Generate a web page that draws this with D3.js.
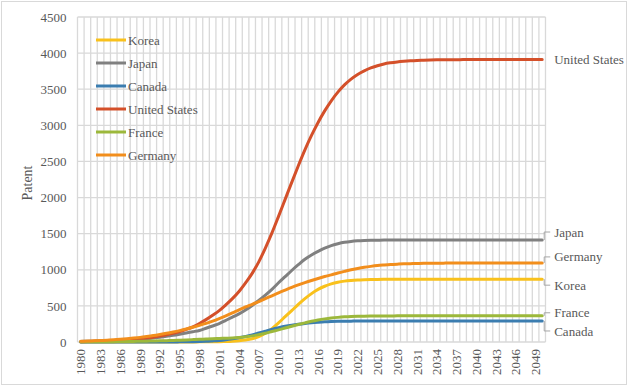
<!DOCTYPE html>
<html>
<head>
<meta charset="utf-8">
<script src="https://cdn.jsdelivr.net/npm/d3@7"></script>
<style>
  body { margin: 0; background: #fff; }
</style>
</head>
<body>
<svg id="chart" width="628" height="386"></svg>
<script>
// categories (years)
var years = [1980,1981,1982,1983,1984,1985,1986,1987,1988,1989,
	1990,1991,1992,1993,1994,1995,1996,1997,1998,1999,
	2000,2001,2002,2003,2004,2005,2006,2007,2008,2009,
	2010,2011,2012,2013,2014,2015,2016,2017,2018,2019,
	2020,2021,2022,2023,2024,2025,2026,2027,2028,2029,
	2030,2031,2032,2033,2034,2035,2036,2037,2038,2039,
	2040,2041,2042,2043,2044,2045,2046,2047,2048,2049,2050];

// series values
var korea = [0,0,0,0,0,0,0,0,0,0,
	0,0,0,1,1,1,1,1,2,2,
	3,5,8,12,18,28,45,75,120,185,
	265,350,435,520,600,670,728,772,805,828,
	843,852,858,862,865,867,868,869,869,870,
	870,870,870,870,870,870,870,870,870,870,
	870,870,870,870,870,870,870,870,870,870,870];
var japan = [8,10,12,14,17,20,24,29,34,40,
	47,56,66,78,92,108,125,142,160,190,
	222,255,300,345,390,445,505,575,650,730,
	820,905,990,1070,1145,1205,1255,1300,1335,1360,
	1380,1393,1401,1406,1409,1410,1411,1411,1412,1412,
	1412,1412,1412,1412,1412,1412,1412,1412,1412,1412,
	1412,1412,1412,1412,1412,1412,1412,1412,1412,1412,1412];
var canada = [0,0,0,0,0,0,0,0,0,0,
	0,0,0,1,1,2,3,4,6,9,
	15,22,32,45,60,78,98,124,150,175,
	197,217,233,246,257,266,273,279,283,286,
	288,289,290,290,291,291,291,291,291,291,
	291,291,291,291,291,291,291,291,291,291,
	291,291,291,291,291,291,291,291,291,291,291];
var unitedStates = [5,7,9,11,14,18,23,29,36,45,
	55,67,82,100,120,145,175,210,255,310,
	370,435,515,600,700,820,950,1110,1300,1510,
	1740,1975,2210,2440,2660,2860,3040,3200,3340,3460,
	3560,3640,3705,3755,3795,3825,3850,3866,3878,3887,
	3894,3899,3902,3905,3907,3908,3909,3909,3910,3910,
	3910,3910,3910,3910,3910,3910,3910,3910,3910,3910,3910];
var france = [2,2,3,3,4,5,6,7,8,10,
	12,14,16,19,22,25,29,33,37,42,
	46,49,52,55,62,72,85,102,122,145,
	168,193,218,242,265,287,305,320,332,341,
	348,353,356,358,359,360,361,361,362,362,
	362,362,362,362,362,362,362,362,362,362,
	363,363,363,363,363,363,363,363,363,363,363];
var germany = [10,13,16,20,25,30,37,45,54,64,
	76,89,104,120,138,158,180,204,230,258,
	290,325,362,402,445,485,522,560,600,640,
	680,718,755,790,822,852,880,906,930,955,
	978,1000,1018,1034,1047,1058,1066,1073,1078,1082,
	1085,1087,1089,1090,1091,1092,1093,1093,1094,1094,
	1095,1095,1095,1095,1095,1095,1095,1095,1095,1095,1095];

var seriesNames = ["Korea", "Japan", "Canada", "United States", "France", "Germany"];
var seriesValues = [korea, japan, canada, unitedStates, france, germany];
var yTicks = [0,500,1000,1500,2000,2500,3000,3500,4000,4500];

var colors = ["#f9c11c", "#808080", "#3b7db0", "#d4502a", "#9cb83b", "#f28e1c"];
// vertical offset of the end labels from their line ends
var labelShift = [6, -8, 10, 0, -3, -6];

var serif = '"Liberation Serif", "Times New Roman", serif';
var textColor = "#595959";

var svg = d3.select("#chart");

// chart border
svg.append("rect")
	.attr("x", 1.5).attr("y", 1.5)
	.attr("width", 625).attr("height", 383)
	.attr("fill", "#fff")
	.attr("stroke", "#d9d9d9");

var x = d3.scaleBand().domain(years).range([77.5, 545.5]);
var y = d3.scaleLinear().domain([0, 4500]).range([342, 17]);
var half = x.bandwidth() / 2;

// gridlines
var grid = svg.append("g").attr("stroke", "#d9d9d9").attr("stroke-width", 1.3);
grid.selectAll("line.h").data(yTicks).enter().append("line")
	.attr("x1", x.range()[0]).attr("x2", x.range()[1])
	.attr("y1", function(d) { return y(d); })
	.attr("y2", function(d) { return y(d); });
grid.selectAll("line.v").data(years.concat(["end"])).enter().append("line")
	.attr("x1", function(d) { return d === "end" ? x.range()[1] : x(d); })
	.attr("x2", function(d) { return d === "end" ? x.range()[1] : x(d); })
	.attr("y1", y(0)).attr("y2", y(4500));

// y axis
var yAxis = d3.axisLeft(y).tickValues(yTicks).tickSize(0).tickPadding(11)
	.tickFormat(d3.format("d"));
svg.append("g")
	.attr("transform", "translate(" + x.range()[0] + ",0)")
	.attr("font-family", serif)
	.attr("font-size", 13)
	.call(yAxis)
	.call(function(g) { g.select(".domain").remove(); })
	.selectAll("text")
	.attr("fill", textColor)
	.style("font-family", serif)
	.style("font-size", "13px");

// x axis, every third year, rotated
var xAxis = d3.axisBottom(x)
	.tickValues(years.filter(function(d, i) { return i % 3 === 0; }))
	.tickFormat(d3.format("d"))
	.tickSize(0);
svg.append("g")
	.attr("transform", "translate(0," + y(0) + ")")
	.call(xAxis)
	.call(function(g) { g.select(".domain").remove(); })
	.selectAll("text")
	.attr("fill", textColor)
	.style("font-family", serif)
	.style("font-size", "13px")
	.attr("text-anchor", "end")
	.attr("transform", "rotate(-90)")
	.attr("x", -7)
	.attr("y", 0)
	.attr("dy", "0.35em");

// axis title
svg.append("text")
	.attr("transform", "translate(32,183) rotate(-90)")
	.attr("text-anchor", "middle")
	.attr("fill", textColor)
	.style("font-family", serif)
	.style("font-size", "14px")
	.text("Patent");

// lines
var line = d3.line()
	.x(function(d, i) { return x(years[i]) + half; })
	.y(function(d) { return y(d); })
	.curve(d3.curveMonotoneX);

svg.append("g").selectAll("path").data(seriesValues).enter().append("path")
	.attr("d", line)
	.attr("fill", "none")
	.attr("stroke", function(d, i) { return colors[i]; })
	.attr("stroke-width", 3)
	.attr("stroke-linecap", "round");

// end labels with leader brackets
var lastYear = years[years.length - 1];
var endX = x(lastYear) + half;
seriesValues.forEach(function(vals, i) {
	var ly = y(vals[vals.length - 1]);
	var ty = ly + labelShift[i];
	if (labelShift[i] !== 0) {
		svg.append("path")
			.attr("d", "M" + (endX + 2) + "," + ly + "V" + ty + "H" + (endX + 8))
			.attr("fill", "none")
			.attr("stroke", "#a6a6a6")
			.attr("stroke-width", 1);
	}
	svg.append("text")
		.attr("x", endX + 12)
		.attr("y", ty)
		.attr("dy", "0.35em")
		.attr("fill", textColor)
		.style("font-family", serif)
		.style("font-size", "13px")
		.text(seriesNames[i]);
});

// legend
var legend = svg.append("g");
seriesNames.forEach(function(name, i) {
	var ly = 40 + i * 23;
	legend.append("line")
		.attr("x1", 96).attr("x2", 126)
		.attr("y1", ly).attr("y2", ly)
		.attr("stroke", colors[i])
		.attr("stroke-width", 3);
	legend.append("text")
		.attr("x", 128).attr("y", ly)
		.attr("dy", "0.35em")
		.attr("fill", textColor)
		.style("font-family", serif)
		.style("font-size", "13px")
		.text(name);
});
</script>
</body>
</html>
